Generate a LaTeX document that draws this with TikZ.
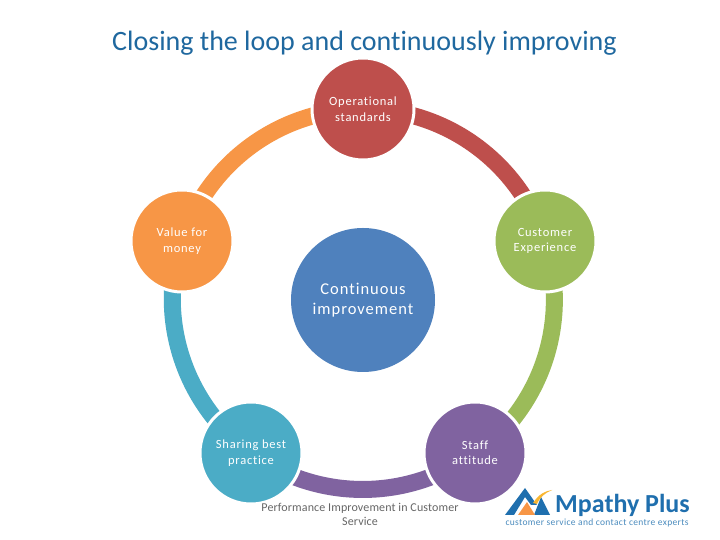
\documentclass[tikz,border=0pt]{standalone}
\usepackage{fontspec}
\setmainfont[Ligatures={NoCommon,NoContextual}]{Carlito}
\usetikzlibrary{backgrounds}
\definecolor{cred}{HTML}{BE4F4C}
\definecolor{cgreen}{HTML}{9BBB59}
\definecolor{cpurple}{HTML}{8063A0}
\definecolor{cteal}{HTML}{4BACC6}
\definecolor{corange}{HTML}{F79646}
\definecolor{cblue}{HTML}{4F81BD}
\definecolor{ctitle}{HTML}{1F689F}
\definecolor{logoblue}{HTML}{1F6FAE}
\tikzset{
 x=1pt,y=1pt,
 cyc/.style={circle,fill=#1,draw=white,line width=3pt,minimum size=102pt,inner sep=0pt,text=white,align=center,font=\fontsize{12.5}{15.5}\selectfont\addfontfeatures{LetterSpace=6}},
 ring/.style={draw=#1,line width=17pt},
}
\begin{document}
\begin{tikzpicture}
\useasboundingbox (0,0) rectangle (720,540);
\node[text=ctitle,font=\fontsize{28}{32}\selectfont] (title) at (364.5,496.5) {Closing the loop and continuously improving};
\node[cyc=cred] (n1) at (363,431) {Operational\\standards};
\node[cyc=cgreen] (n2) at (545,299) {Customer\\Experience};
\node[cyc=cpurple] (n3) at (475,87) {Staff\\attitude};
\node[cyc=cteal] (n4) at (251,87) {Sharing best\\practice};
\node[cyc=corange] (n5) at (182,299) {Value for\\money};
\node[circle,fill=cblue,minimum size=144pt,inner sep=0pt,text=white,align=center,font=\fontsize{16.5}{20}\selectfont\addfontfeatures{LetterSpace=6}] (c) at (363,240) {Continuous\\improvement};
\begin{scope}[on background layer]
\fill[white] (0,0) rectangle (720,540);
\draw[ring=cred] (n1.center) arc[start angle=90,end angle=18,radius=191];
\draw[ring=cgreen] (n2.center) arc[start angle=18,end angle=-54,radius=191];
\draw[ring=cpurple] (n3.center) arc[start angle=-54,end angle=-126,radius=191];
\draw[ring=cteal] (n4.center) arc[start angle=-126,end angle=-198,radius=191];
\draw[ring=corange] (n5.center) arc[start angle=162,end angle=90,radius=191];
\end{scope}
\node[text=black!60,align=center,font=\fontsize{12}{14}\selectfont\addfontfeatures{LetterSpace=1}] (cap) at (360,25.5) {Performance Improvement in Customer\\Service};
% logo
\fill[logoblue] (505,25) -- (525,52) -- (537,35) -- (531,35) -- (525,43) -- (514,25) -- cycle;
\fill[logoblue] (534,25) -- (541,43) -- (550,25) -- cycle;
\fill[corange] (518,25) -- (527,38) -- (535,25) -- cycle;
\fill[corange!70!yellow] (533,37) .. controls (539,46) and (545,49) .. (552,50) .. controls (545,47) and (540,43) .. (537,36) -- cycle;
\node[text=logoblue,font=\bfseries\fontsize{26}{28}\selectfont,anchor=base west,inner sep=0pt] (logo) at (555,27) {Mpathy Plus};
\node[text=logoblue!80,font=\fontsize{9.5}{10}\selectfont\addfontfeatures{LetterSpace=3.5},anchor=base,inner sep=0pt] (tag) at (597,14) {customer service and contact centre experts};
\end{tikzpicture}
\end{document}
